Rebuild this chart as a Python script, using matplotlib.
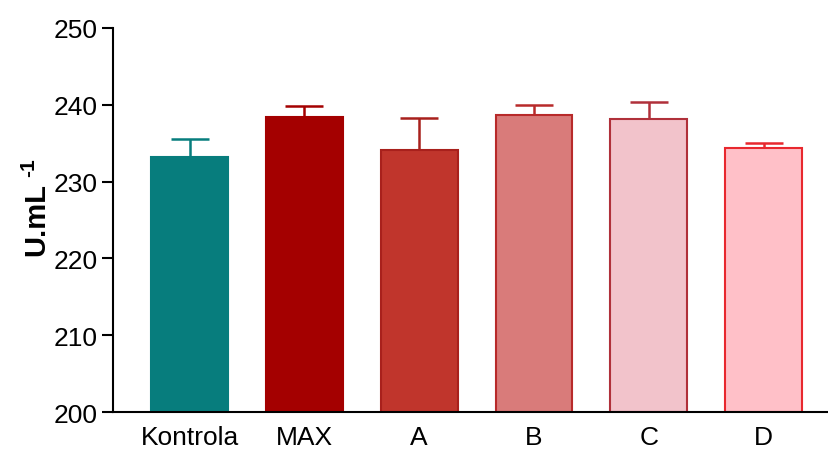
import matplotlib
matplotlib.use("Agg")
import matplotlib.pyplot as plt

categories = ["Kontrola", "MAX", "A", "B", "C", "D"]
means = [233.2, 238.4, 234.1, 238.7, 238.2, 234.4]
errors = [2.3, 1.4, 4.2, 1.3, 2.2, 0.6]
fill_colors = ["#077d7d", "#a40000", "#c0352c", "#d97b7a", "#f2c3cb", "#ffc0c8"]
edge_colors = ["#077d7d", "#a40000", "#a8201c", "#b82a2a", "#b0303a", "#e8282e"]
ylabel_main = "U.mL"
ylabel_sup = "-1"

plt.rcParams['font.family'] = ['Liberation Sans', 'DejaVu Sans']

W, H = 829, 452
fig = plt.figure(figsize=(W / 100, H / 100), dpi=100)
ax = fig.add_axes([0.136, 0.086, 0.864, 0.850])

bar_w = 0.67
cap_w = 0.33
x = list(range(len(categories)))
for i in x:
    ax.bar(i, means[i] - 200, bottom=200, width=bar_w, color=fill_colors[i],
           edgecolor=edge_colors[i], linewidth=1.5, zorder=2)
    top = means[i] + errors[i]
    ax.vlines(i, means[i], top, colors=edge_colors[i], linewidth=1.8, zorder=3)
    ax.hlines(top, i - cap_w / 2, i + cap_w / 2, colors=edge_colors[i], linewidth=1.8, zorder=3)

ax.set_ylim(200, 250)
ax.set_xlim(-0.67, 5.57)
ax.set_yticks([200, 210, 220, 230, 240, 250])
ax.set_xticks(x)
ax.set_xticklabels(categories)
ax.tick_params(axis='y', direction='out', length=8, width=1.5, labelsize=19, pad=3)
ax.tick_params(axis='x', length=0, labelsize=19, pad=9)
ax.spines['top'].set_visible(False)
ax.spines['right'].set_visible(False)
ax.spines['left'].set_linewidth(1.5)
ax.spines['bottom'].set_linewidth(1.5)

fig.text(36 / W, 1 - 219 / H, ylabel_main, rotation=90, ha='center', va='center',
         fontsize=21, fontweight='bold')
fig.text(29 / W, 1 - 168 / H, ylabel_sup, rotation=90, ha='center', va='center',
         fontsize=15, fontweight='bold')

fig.savefig("out.png", dpi=100)
